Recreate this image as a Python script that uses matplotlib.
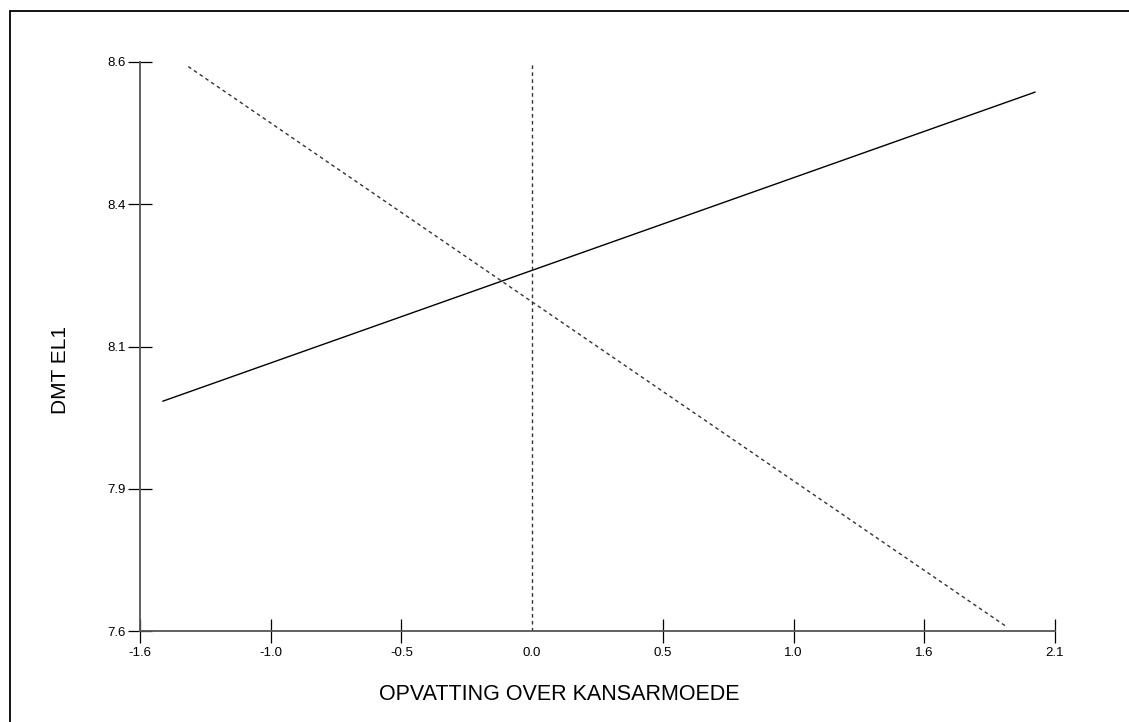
import matplotlib
matplotlib.use("Agg")
import matplotlib.pyplot as plt
import numpy as np

plt.rcParams['font.family'] = ['Liberation Sans', 'DejaVu Sans']

# tick labels as printed on the chart (evenly spaced positions)
x_labels = ["-1.6", "-1.0", "-0.5", "0.0", "0.5", "1.0", "1.6", "2.1"]
y_labels = ["7.6", "7.9", "8.1", "8.4", "8.6"]

# regression lines (end points)
solid_x = [-1.507, 2.019]
solid_y = [8.004, 8.547]
dashed_x = [-1.405, 1.906]
dashed_y = [8.592, 7.607]

xmin, xmax = -1.6, 2.1
ymin, ymax = 7.6, 8.6
x_ticks = np.linspace(xmin, xmax, len(x_labels))
y_ticks = np.linspace(ymin, ymax, len(y_labels))
ref_x = x_ticks[3]

W, H = 1129, 722
fig = plt.figure(figsize=(W / 100, H / 100), dpi=100)
ax = fig.add_axes([140 / W, 1 - 631 / H, 915 / W, 569 / H])

ax.plot(solid_x, solid_y, color="black", lw=1.0)
ax.plot(dashed_x, dashed_y, color="#333333", lw=1.0, linestyle=(0, (2.6, 2.4)))
ax.plot([ref_x, ref_x], [ymin, ymax], color="#333333", lw=1.0, linestyle=(0, (2.6, 2.4)))

ax.set_xlim(xmin, xmax)
ax.set_ylim(ymin, ymax)
ax.set_xticks(x_ticks)
ax.set_xticklabels(x_labels)
ax.set_yticks(y_ticks)
ax.set_yticklabels(y_labels)

for s in ["top", "right"]:
    ax.spines[s].set_visible(False)
for s in ["left", "bottom"]:
    ax.spines[s].set_color("#555555")
    ax.spines[s].set_linewidth(1.3)

ax.tick_params(direction="inout", length=17, width=0.9, color="black",
               labelsize=9.5, pad=2)
ax.tick_params(axis="x", pad=3)
# no tick drawn at the reference line
xt = ax.xaxis.get_major_ticks()
xt[3].tick1line.set_visible(False)

fig.text(559 / W, 1 - 695 / H, "OPVATTING OVER KANSARMOEDE", ha="center",
         va="center", fontsize=15.5)
fig.text(61 / W, 1 - 370 / H, "DMT EL1", ha="center", va="center",
         rotation=90, fontsize=15)

# outer frame
frame = plt.Rectangle((10 / W, -0.05), 1.1, 1 - 11 / H + 0.05, transform=fig.transFigure,
                      fill=False, edgecolor="black", lw=1.3)
fig.patches.append(frame)

fig.savefig("out.png", dpi=100)
